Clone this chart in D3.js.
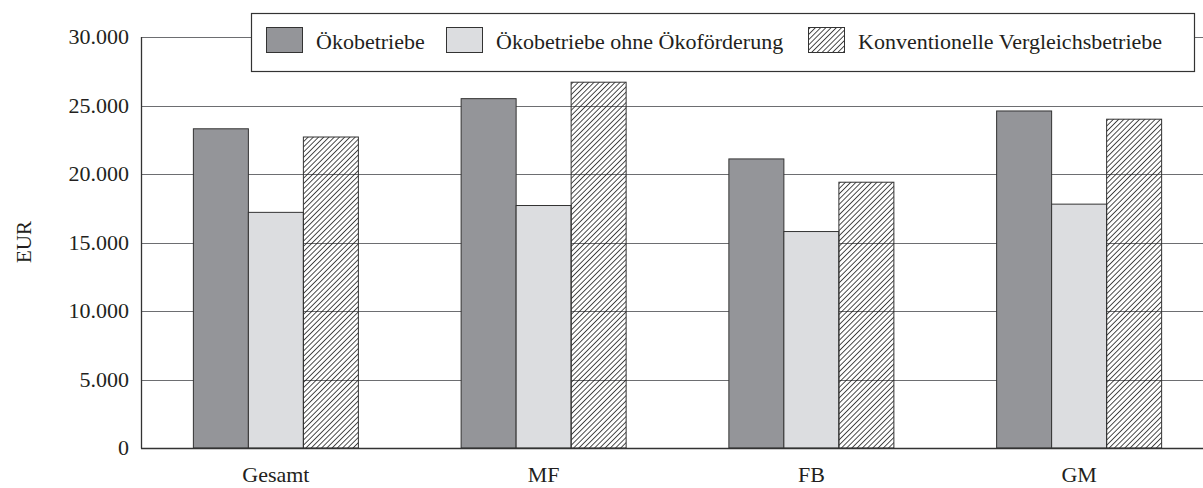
<!DOCTYPE html>
<html lang="de">
<head>
<meta charset="utf-8">
<script src="https://d3js.org/d3.v7.min.js"></script>
<style>
  body { margin: 0; background: #fff; }
  svg text { font-family: "Liberation Serif", "Times New Roman", serif; fill: #231f20; }
</style>
</head>
<body>
<div class="chart"></div>
<script>
// data
var categories = ["Gesamt", "MF", "FB", "GM"];
var seriesNames = ["Ökobetriebe", "Ökobetriebe ohne Ökoförderung", "Konventionelle Vergleichsbetriebe"];
var oeko      = [23300, 25500, 21100, 24600];
var oekoOhne  = [17200, 17700, 15800, 17800];
var konv      = [22700, 26700, 19400, 24000];
var yTicks    = [0, 5000, 10000, 15000, 20000, 25000, 30000];

var width = 1203, height = 488;
var svg = d3.select('.chart').append('svg').attr('width', width).attr('height', height);

// hatch pattern, transparent background so grid lines show through
var defs = svg.append('defs');
defs.append('pattern')
  .attr('id', 'hatch')
  .attr('patternUnits', 'userSpaceOnUse')
  .attr('width', 3.7).attr('height', 3.7)
  .attr('patternTransform', 'rotate(45)')
  .append('line')
  .attr('x1', 0).attr('y1', 0).attr('x2', 0).attr('y2', 3.7)
  .attr('stroke', '#111').attr('stroke-width', 1.5);

var fills = ['#949599', '#dcdde0', 'url(#hatch)'];

var x = d3.scaleBand().domain(categories).range([142, 1213]).paddingInner(0).paddingOuter(0);
var x1 = d3.scaleBand().domain(d3.range(3)).range([0, 165]);
var y = d3.scaleLinear().domain([0, 30000]).range([448, 37]);

var fmt = function(d) { return d3.format(',')(d).replace(/,/g, '.'); };

// grid lines
svg.append('g').selectAll('line').data(yTicks.slice(1)).join('line')
  .attr('x1', 142).attr('x2', width)
  .attr('y1', function(d) { return Math.round(y(d)) + 0.5; })
  .attr('y2', function(d) { return Math.round(y(d)) + 0.5; })
  .attr('stroke', '#6d6e71').attr('stroke-width', 1.2);

// bars
var table = categories.map(function(c, i) { return [oeko[i], oekoOhne[i], konv[i]]; });
var groups = svg.append('g').selectAll('g').data(table).join('g')
  .attr('transform', function(d, i) { return 'translate(' + (x(categories[i]) + (x.bandwidth() - 165) / 2) + ',0)'; });
groups.selectAll('rect').data(function(d) { return d; }).join('rect')
  .attr('x', function(d, j) { return x1(j); })
  .attr('width', x1.bandwidth())
  .attr('y', function(d) { return y(d); })
  .attr('height', function(d) { return y(0) - y(d); })
  .attr('fill', function(d, j) { return fills[j]; })
  .attr('stroke', '#333').attr('stroke-width', 1);

// axes
svg.append('line').attr('x1', 141.5).attr('x2', 141.5).attr('y1', y(30000)).attr('y2', y(0) + 0.5)
  .attr('stroke', '#333').attr('stroke-width', 1.3);
svg.append('line').attr('x1', 141).attr('x2', width).attr('y1', y(0) + 0.5).attr('y2', y(0) + 0.5)
  .attr('stroke', '#333').attr('stroke-width', 1.3);

svg.append('g').selectAll('text').data(yTicks).join('text')
  .attr('x', 129).attr('y', function(d) { return y(d) + 7; })
  .attr('text-anchor', 'end').style('font-size', '22px')
  .text(fmt);

svg.append('g').selectAll('text').data(categories).join('text')
  .attr('x', function(d) { return x(d) + x.bandwidth() / 2; })
  .attr('y', 482).attr('text-anchor', 'middle').style('font-size', '22px')
  .text(function(d) { return d; });

svg.append('text').attr('transform', 'translate(31,242) rotate(-90)')
  .attr('text-anchor', 'middle').style('font-size', '21px').text('EUR');

// legend
var lg = svg.append('g');
lg.append('rect').attr('x', 251.5).attr('y', 13.5).attr('width', 943).attr('height', 58)
  .attr('fill', '#fff').attr('stroke', '#333').attr('stroke-width', 1.2);
var legX = [266, 446, 808];
seriesNames.forEach(function(s, i) {
  lg.append('rect').attr('x', legX[i] + 0.5).attr('y', 27.5).attr('width', 36).attr('height', 25)
    .attr('fill', fills[i]).attr('stroke', '#333').attr('stroke-width', 1);
  lg.append('text').attr('x', legX[i] + 50).attr('y', 49).style('font-size', '22px').text(s);
});
</script>
</body>
</html>
